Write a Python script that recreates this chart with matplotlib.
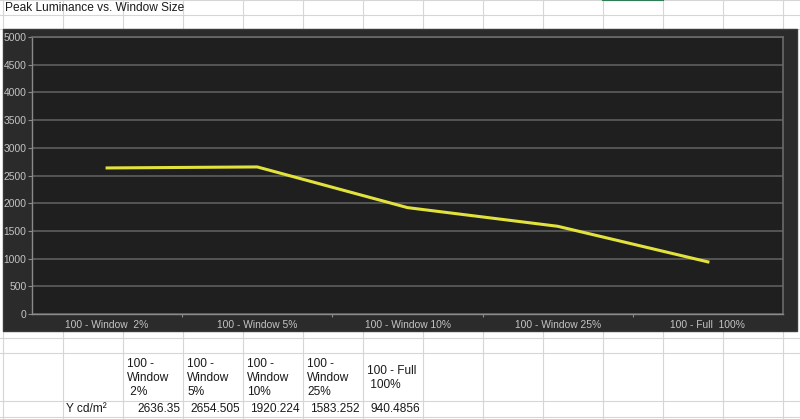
import matplotlib.pyplot as plt
from matplotlib.patches import Rectangle

plt.rcParams['font.family'] = ['Liberation Sans', 'DejaVu Sans']

title = 'Peak Luminance vs. Window Size'
categories = ['100 - Window  2%', '100 - Window 5%', '100 - Window 10%',
              '100 - Window 25%', '100 - Full  100%']
table_headers = ['100 -\nWindow\n 2%', '100 -\nWindow\n5%', '100 -\nWindow\n10%',
                 '100 -\nWindow\n25%', '100 - Full\n 100%']
row_label = 'Y cd/m²'
values = [2636.35, 2654.505, 1920.224, 1583.252, 940.4856]
y_ticks = list(range(0, 5001, 500))

W, H = 800, 419
fig = plt.figure(figsize=(W / 100, H / 100), dpi=100)

# spreadsheet background, pixel coordinates
bg = fig.add_axes([0, 0, 1, 1])
bg.set_xlim(0, W)
bg.set_ylim(H, 0)
bg.axis('off')

grid_col = '#d6d6d6'
for x in range(3, W, 60):
    bg.plot([x, x], [0, H], color=grid_col, lw=0.8)
for y in [0.5, 15, 29, 338, 353, 401, 417]:
    bg.plot([0, W], [y, y], color=grid_col, lw=0.8)
bg.plot([603, 663], [0.5, 0.5], color='#2e7d57', lw=1.5)

bg.text(5, 8, title, fontsize=8.6, color='#1a1a1a', va='center', ha='left')

# data table under the chart
for i, (hdr, v) in enumerate(zip(table_headers, values)):
    x0 = 123 + 60 * i
    bg.text(x0 + 4, 378, hdr, fontsize=8.6, color='#1a1a1a', va='center',
            ha='left', linespacing=1.25)
    bg.text(x0 + 57, 409, str(v), fontsize=8.6, color='#1a1a1a', va='center',
            ha='right')
bg.text(66, 409, row_label, fontsize=8.6, color='#1a1a1a', va='center', ha='left')

# dark chart area
bg.add_patch(Rectangle((3, 29), 794, 302, facecolor='#2b2b2b',
                       edgecolor='#3a3a3a', lw=1, zorder=3))

# plot area
px0, px1, py0, py1 = 32, 783, 37, 314
ax = fig.add_axes([px0 / W, 1 - py1 / H, (px1 - px0) / W, (py1 - py0) / H])
ax.set_facecolor('#1f1f1f')
ax.plot(range(len(values)), values, color='#e2e23c', lw=2.2,
        solid_joinstyle='miter', zorder=3)
ax.set_xlim(-0.5, len(categories) - 0.5)
ax.set_ylim(0, 5000)
ax.set_yticks(y_ticks)
ax.set_xticks(range(len(categories)))
ax.set_xticklabels(categories)
ax.set_xticks([i + 0.5 for i in range(len(categories) - 1)], minor=True)
ax.grid(axis='y', color='#5e5e5e', lw=1.2)
ax.tick_params(axis='y', colors='#8a8a8a', labelcolor='#c4c4c4',
               labelsize=7.4, length=3, width=0.8, pad=1)
ax.tick_params(axis='x', which='major', length=0, labelcolor='#c4c4c4',
               labelsize=7.4, pad=4)
ax.tick_params(axis='x', which='minor', length=2, width=0.8, colors='#8a8a8a')
for side in ['left', 'bottom']:
    ax.spines[side].set_color('#8a8a8a')
    ax.spines[side].set_linewidth(1)
for side in ['right', 'top']:
    ax.spines[side].set_color('#6a6a6a')
    ax.spines[side].set_linewidth(1.2)

fig.savefig('out.png', dpi=100)
